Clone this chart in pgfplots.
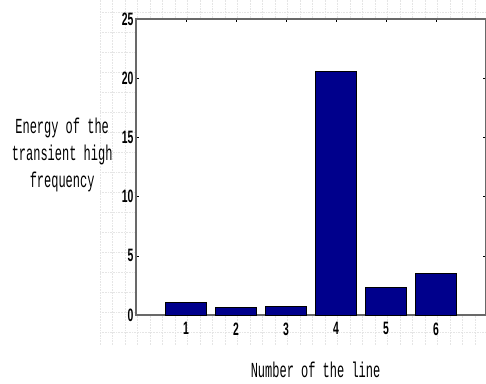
\documentclass[border=0pt]{standalone}
\usepackage{pgfplots}
\pgfplotsset{compat=1.18}
\usepackage{fontspec}
\newfontfamily\lblfont[FakeStretch=0.56]{Liberation Mono}
\newfontfamily\ticfont[FakeStretch=0.58]{Liberation Sans}
\definecolor{barblue}{RGB}{0,0,140}
\definecolor{axgray}{RGB}{105,105,105}
\begin{document}
\begin{tikzpicture}[x=1bp,y=1bp]
% faint background paper grid
\foreach \xx in {100,112.5,...,486} {\draw[gray!20,densely dotted,line width=0.6bp] (\xx,38) -- (\xx,383);}
\foreach \yy in {51,71,...,383} {\draw[gray!20,densely dotted,line width=0.6bp] (100,\yy) -- (486,\yy);}
\begin{axis}[
  at={(136bp,68bp)}, anchor=south west,
  scale only axis, width=350bp, height=296bp,
  xmin=0, xmax=7, ymin=0, ymax=25,
  xtick={1,2,3,4,5,6}, ytick={0,5,10,15,20,25},
  tick align=inside, major tick length=3bp,
  axis background/.style={fill=white},
  axis line style={axgray, line width=1.4bp},
  tick style={black, line width=0.6bp},
  ticklabel style={font=\ticfont\bfseries\fontsize{18}{18}\selectfont},
  /pgf/number format/assume math mode=true,
  xticklabel style={yshift=-4bp},
  yticklabel style={xshift=1bp},
  xlabel={Number of the line},
  xlabel style={font=\lblfont\fontsize{21.5}{24}\selectfont, at={(axis description cs:0.513,-0.186)}, anchor=center},
  ylabel={Energy of the\\transient high\\frequency},
  ylabel style={font=\lblfont\fontsize{21.5}{27}\selectfont, align=center, rotate=-90, at={(axis description cs:-0.211,0.54)}, anchor=center},
  clip=false,
]
\addplot[ybar, bar width=0.81, fill=barblue, draw=black, line width=0.6bp] coordinates {
  (1,1.05) (2,0.62) (3,0.73) (4,20.55) (5,2.36) (6,3.52)
};
\end{axis}
\pgfresetboundingbox
\path[use as bounding box] (0,0) rectangle (486,383);
\end{tikzpicture}
\end{document}
